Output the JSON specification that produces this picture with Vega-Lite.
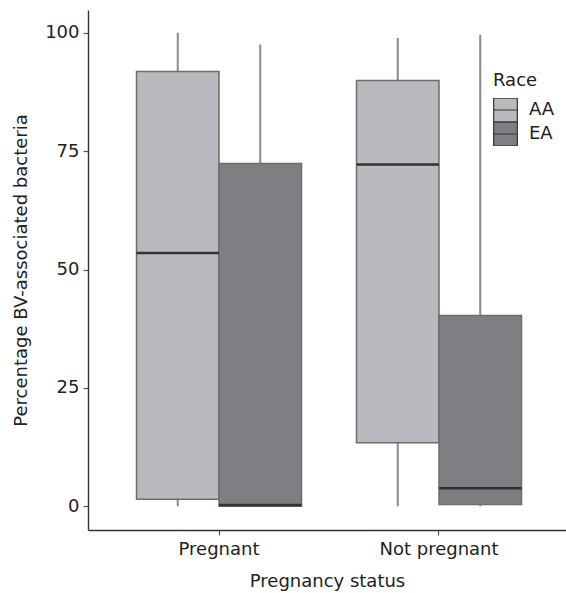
{
  "$schema": "https://vega.github.io/schema/vega-lite/v6.json",
  "autosize": "none",
  "padding": {"left": 88, "top": 10, "right": 0, "bottom": 63},
  "width": 478,
  "height": 520,
  "background": "white",
  "config": {
    "font": "DejaVu Sans",
    "view": {"stroke": null},
    "axis": {
      "grid": false,
      "domainColor": "#333333",
      "domainWidth": 1.4,
      "tickColor": "#555555",
      "tickWidth": 1.2,
      "tickSize": 5,
      "labelFont": "DejaVu Sans",
      "labelFontSize": 18,
      "labelColor": "#222222",
      "titleFont": "DejaVu Sans",
      "titleFontSize": 18,
      "titleFontWeight": "normal",
      "titleColor": "#222222"
    },
    "legend": {
      "titleFont": "DejaVu Sans",
      "titleFontSize": 18,
      "titleFontWeight": "normal",
      "titleColor": "#222222",
      "labelFont": "DejaVu Sans",
      "labelFontSize": 18,
      "labelColor": "#222222"
    }
  },
  "data": {
    "values": [
      {"status": "Pregnant", "race": "AA", "lower": 0, "q1": 1.5, "median": 53.5, "q3": 91.8, "upper": 100},
      {"status": "Pregnant", "race": "EA", "lower": 0, "q1": 0, "median": 0.3, "q3": 72.4, "upper": 97.5},
      {"status": "Not pregnant", "race": "AA", "lower": 0, "q1": 13.4, "median": 72.2, "q3": 89.9, "upper": 98.9},
      {"status": "Not pregnant", "race": "EA", "lower": 0, "q1": 0.4, "median": 3.8, "q3": 40.3, "upper": 99.6}
    ]
  },
  "encoding": {
    "x": {
      "field": "status",
      "type": "nominal",
      "sort": ["Pregnant", "Not pregnant"],
      "title": "Pregnancy status",
      "scale": {"paddingInner": 0.25, "paddingOuter": 0.2114, "align": 0.5215},
      "axis": {"labelAngle": 0, "bandPosition": 0.5, "labelPadding": 5, "titlePadding": 14}
    },
    "xOffset": {
      "field": "race",
      "type": "nominal",
      "sort": ["AA", "EA"],
      "scale": {"paddingInner": 0, "paddingOuter": 0}
    }
  },
  "layer": [
    {
      "mark": {"type": "rule", "color": "#8a8a8c", "strokeWidth": 2},
      "encoding": {
        "y": {
          "field": "lower",
          "type": "quantitative",
          "title": "Percentage BV-associated bacteria",
          "scale": {"domain": [-5, 104.8], "nice": false, "zero": false},
          "axis": {"values": [0, 25, 50, 75, 100], "labelPadding": 4, "titlePadding": 14}
        },
        "y2": {"field": "upper"}
      }
    },
    {
      "mark": {"type": "bar", "stroke": "#6c6c6e", "strokeWidth": 1.5, "opacity": 1},
      "encoding": {
        "y": {"field": "q1", "type": "quantitative"},
        "y2": {"field": "q3"},
        "fill": {
          "field": "race",
          "type": "nominal",
          "sort": ["AA", "EA"],
          "title": "Race",
          "scale": {"domain": ["AA", "EA"], "range": ["#b9babd", "#7e7f83"]},
          "legend": {
            "orient": "none",
            "legendX": 405,
            "legendY": 62,
            "symbolType": "M-1,-1H1V1H-1Z M-1,0H1",
            "symbolSize": 560,
            "symbolStrokeColor": "#333333",
            "symbolStrokeWidth": 1.2,
            "symbolOpacity": 1,
            "rowPadding": 0,
            "clipHeight": 24,
            "labelOffset": 11,
            "titlePadding": 8
          }
        }
      }
    },
    {
      "mark": {"type": "bar", "stroke": "#333333", "strokeWidth": 2.5, "fillOpacity": 0},
      "encoding": {
        "y": {"field": "median", "type": "quantitative"},
        "y2": {"field": "median"}
      }
    }
  ]
}
